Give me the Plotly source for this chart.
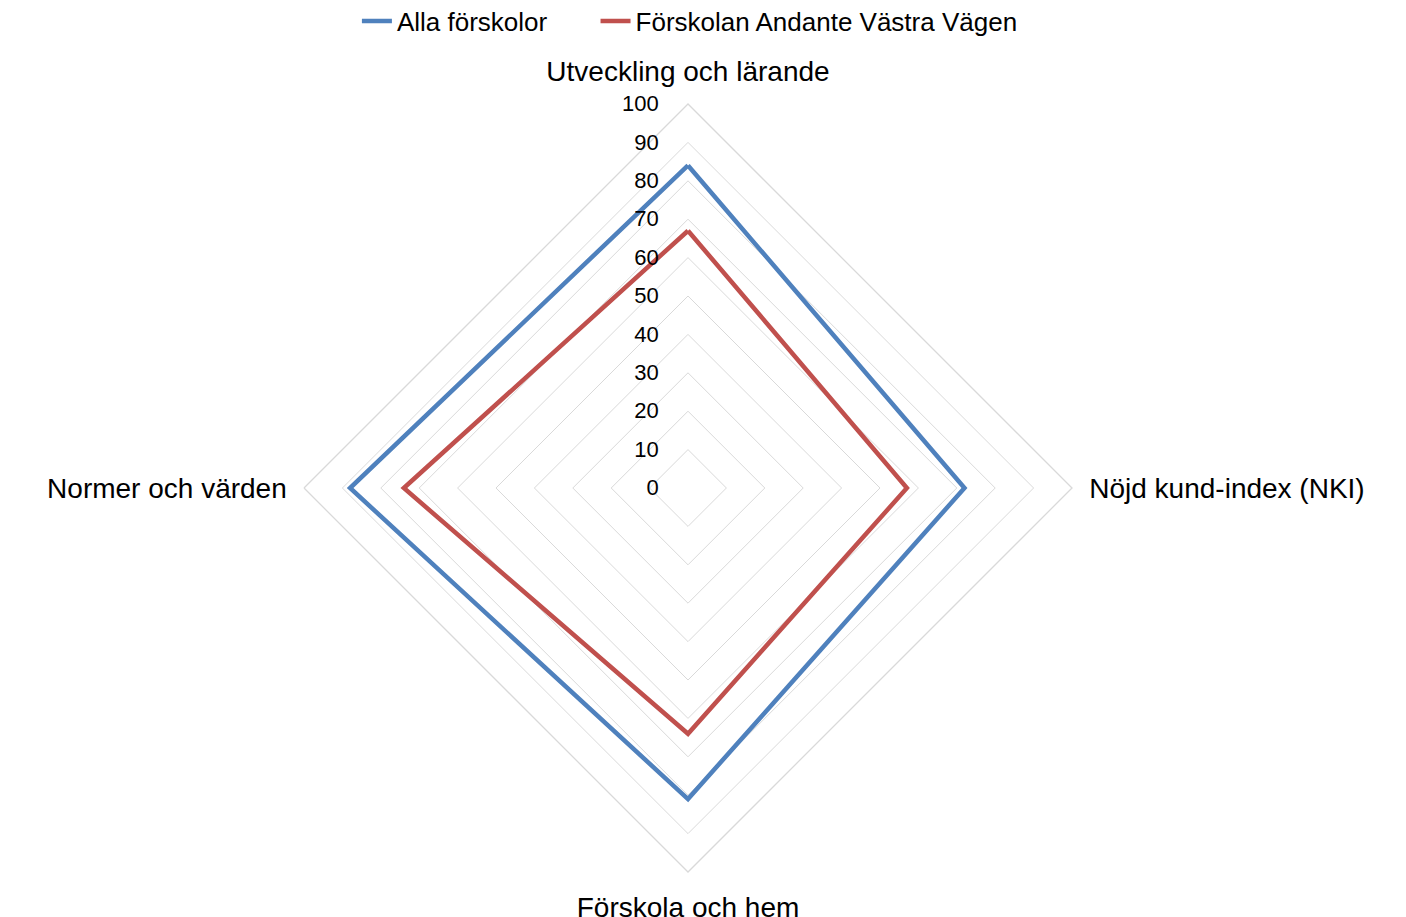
import plotly.graph_objects as go

# axes (clockwise from top)
categories = ["Utveckling och lärande", "Nöjd kund-index (NKI)",
              "Förskola och hem", "Normer och värden"]

alla_forskolor = [84, 72, 81, 88]
andante_vastra_vagen = [67, 57, 64, 74]

radial_ticks = list(range(0, 101, 10))

series_names = ["Alla förskolor", "Förskolan Andante Västra Vägen"]


def closed(vals):
    return vals + vals[:1]


fig = go.Figure()

fig.add_trace(go.Scatterpolar(
    r=closed(alla_forskolor),
    theta=closed(categories),
    mode="lines",
    # nbsp padding widens the gap to the next legend entry
    name=series_names[0] + "\u00a0" * 6,
    line=dict(color="#4f81bd", width=4.5),
))

fig.add_trace(go.Scatterpolar(
    r=closed(andante_vastra_vagen),
    theta=closed(categories),
    mode="lines",
    name=series_names[1],
    line=dict(color="#c0504d", width=4.5),
))

W, H, TOP = 1406, 917, 50
# polar centre wanted at (686, 487) px, radius 384 px
# plotly ends up ~6px right / ~7px low, so aim a bit up-left
cx, cy, rad = 680, 480, 384
ph = H - TOP
dom_x = [(cx - rad) / W, (cx + rad) / W]
dom_y = [(H - cy - rad) / ph, (H - cy + rad) / ph]

fig.update_layout(
    width=W,
    height=H,
    paper_bgcolor="white",
    plot_bgcolor="white",
    margin=dict(l=0, r=0, t=TOP, b=0),
    font=dict(family="Liberation Sans, Arial, sans-serif", color="black"),
    showlegend=True,
    legend=dict(
        orientation="h",
        x=0.485, xanchor="center",
        yref="container",
        y=1 - 13 / H, yanchor="middle",
        font=dict(size=26),
    ),
    polar=dict(
        domain=dict(x=dom_x, y=dom_y),
        gridshape="linear",
        bgcolor="white",
        radialaxis=dict(
            range=[0, 100],
            tickvals=radial_ticks,
            angle=90,
            tickangle=90,
            side="counterclockwise",
            showline=False,
            ticks="outside",
            ticklen=21,
            tickcolor="rgba(0,0,0,0)",
            gridcolor="#d9d9d9",
            gridwidth=1.3,
            tickfont=dict(size=22),
        ),
        angularaxis=dict(
            direction="clockwise",
            rotation=90,
            showgrid=False,
            showline=True,
            linecolor="#d9d9d9",
            linewidth=1.3,
            ticks="outside",
            ticklen=11,
            tickcolor="rgba(0,0,0,0)",
            tickfont=dict(size=28),
        ),
    ),
)

fig.write_html("out.html")
